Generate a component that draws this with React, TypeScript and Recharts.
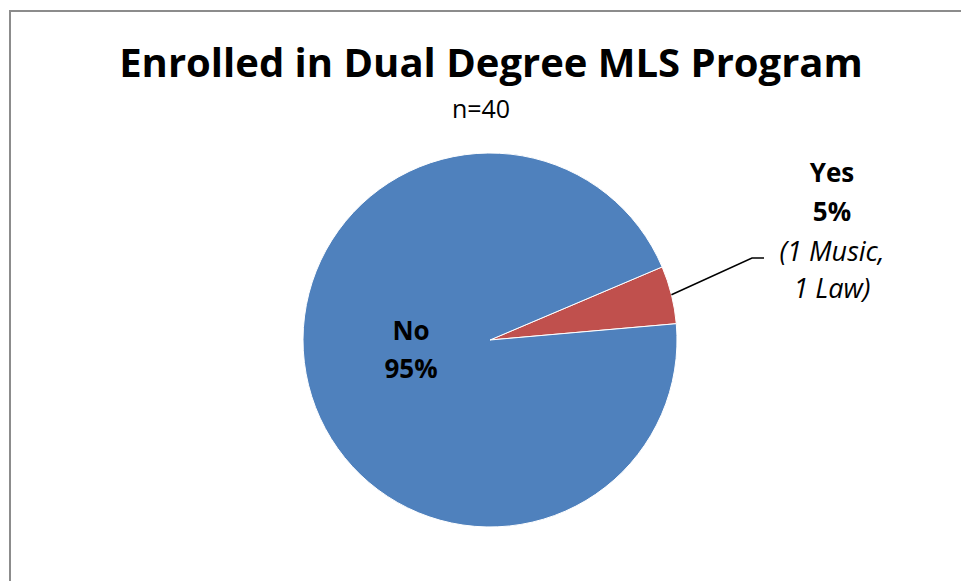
import { PieChart, Pie, Cell } from "recharts"

const categories = ["Yes", "No"]
const counts = [2, 38]
const percents = ["5%", "95%"]
const notes = ["(1 Music,|1 Law)", ""]
const colors = ["#C0504D", "#4F81BD"]

const data = categories.map((name, i) => ({ name, value: counts[i], pct: percents[i], note: notes[i] }))

const RAD = Math.PI / 180
const font = "'Open Sans', sans-serif"

const renderLabel = (props: any) => {
  const { cx, cy, payload, index } = props
  if (index === 1) {
    const x = cx - 79
    return (
      <text x={x} textAnchor="middle" fontFamily={font} fontWeight="bold" fontSize={26} fill="#000">
        <tspan x={x} y={cy}>{payload.name}</tspan>
        <tspan x={x} y={cy + 38}>{payload.pct}</tspan>
      </text>
    )
  }
  const x = cx + 342
  const lines = payload.note.split("|")
  return (
    <text x={x} textAnchor="middle" fontFamily={font} fontSize={26} fill="#000">
      <tspan x={x} y={cy - 158} fontWeight="bold">{payload.name}</tspan>
      <tspan x={x} y={cy - 119} fontWeight="bold">{payload.pct}</tspan>
      <tspan x={x} y={cy - 79} fontStyle="italic" fontSize={27}>{lines[0]}</tspan>
      <tspan x={x} y={cy - 42} fontStyle="italic" fontSize={27}>{lines[1]}</tspan>
    </text>
  )
}

const renderLine = (props: any) => {
  const { cx, cy, midAngle, outerRadius, index } = props
  if (index === 1) return <g />
  const sx = cx + outerRadius * Math.cos(-midAngle * RAD)
  const sy = cy + outerRadius * Math.sin(-midAngle * RAD)
  return (
    <polyline
      points={`${sx},${sy} ${cx + 262},${cy - 82} ${cx + 274},${cy - 82}`}
      fill="none"
      stroke="#000"
      strokeWidth={1.5}
    />
  )
}

export default function App() {
  return (
    <div style={{ position: "absolute", left: 0, top: 0, width: 961, height: 581, overflow: "hidden", background: "#fff" }}>
      <div
        style={{
          position: "absolute",
          left: 9,
          top: 10,
          width: 1000,
          height: 620,
          border: "2px solid #8c8c8c",
        }}
      />
      <svg width={961} height={140} style={{ position: "absolute", left: 0, top: 0 }}>
        <text x={491} y={77} textAnchor="middle" fontFamily={font} fontWeight="bold" fontSize={40} fill="#000">
          Enrolled in Dual Degree MLS Program
        </text>
        <text x={481} y={118} textAnchor="middle" fontFamily={font} fontSize={25} fill="#000">
          n=40
        </text>
      </svg>
      <div style={{ position: "absolute", left: 0, top: 0 }}>
        <PieChart width={961} height={581} margin={{ top: 0, right: 0, bottom: 0, left: 0 }}>
          <Pie
            data={data}
            dataKey="value"
            cx={490}
            cy={340}
            outerRadius={187}
            startAngle={5}
            endAngle={365}
            stroke="#fff"
            strokeWidth={1}
            label={renderLabel}
            labelLine={renderLine}
            isAnimationActive={false}
          >
            {data.map((d, i) => (
              <Cell key={d.name} fill={colors[i]} />
            ))}
          </Pie>
        </PieChart>
      </div>
    </div>
  )
}
